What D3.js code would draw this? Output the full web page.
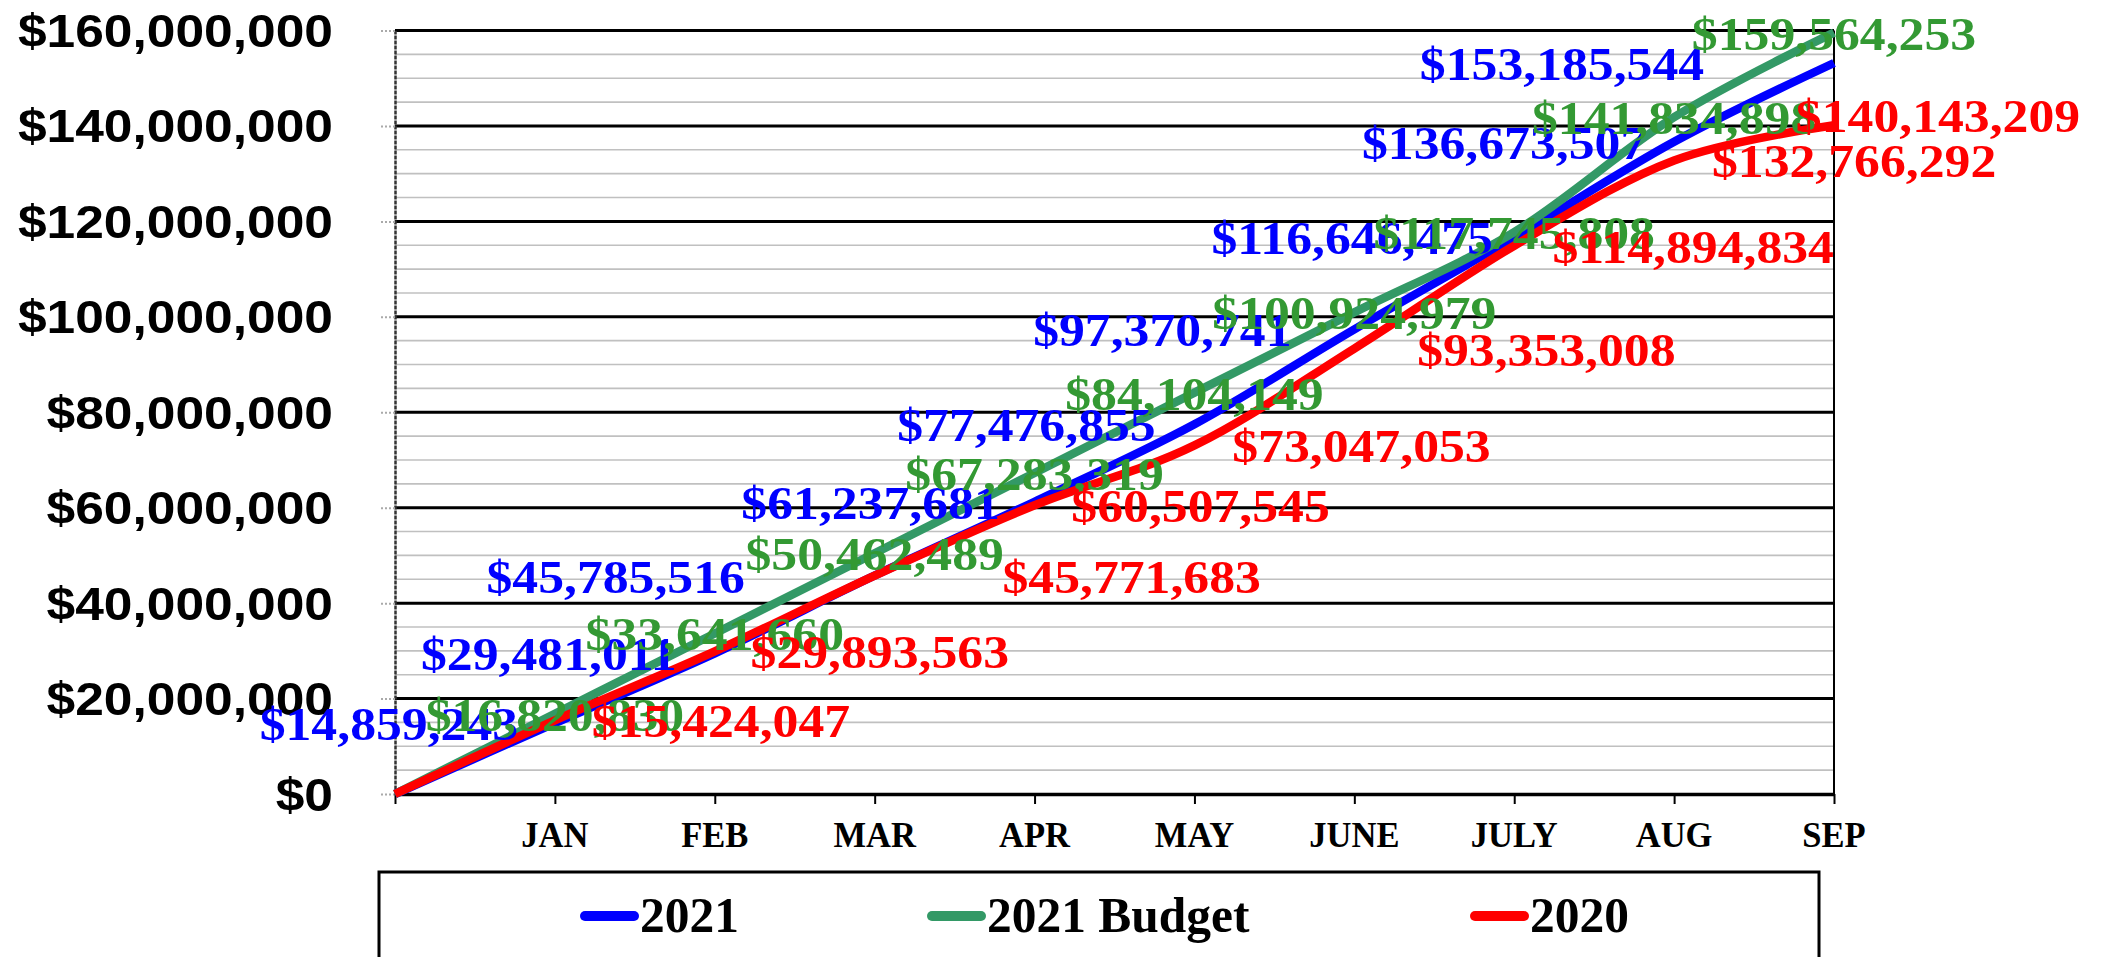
<!DOCTYPE html>
<html>
<head>
<meta charset="utf-8">
<script src="https://cdn.jsdelivr.net/npm/d3@7"></script>
<style>
  body { margin: 0; background: #fff; }
</style>
</head>
<body>
<script>
// categorias del eje X (el primer punto es el origen, sin etiqueta)
var meses = ["", "JAN", "FEB", "MAR", "APR", "MAY", "JUNE", "JULY", "AUG", "SEP"];

// series acumuladas
var serie2021 = [0, 14859243, 29481011, 45785516, 61237681, 77476855, 97370741, 116646475, 136673507, 153185544];
var seriePresupuesto = [0, 16820830, 33641660, 50462489, 67283319, 84104149, 100924979, 117745808, 141834898, 159564253];
var serie2020 = [0, 15424047, 29893563, 45771683, 60507545, 73047053, 93353008, 114894834, 132766292, 140143209];

// marcas del eje Y
var ticksY = [0, 20000000, 40000000, 60000000, 80000000, 100000000, 120000000, 140000000, 160000000];
var ticksMenores = d3.range(5000000, 160000000, 5000000).filter(function (d) { return d % 20000000 !== 0; });

var nombresLeyenda = ["2021", "2021 Budget", "2020"];

// desplazamientos manuales de las etiquetas (como estaban en la hoja)
var dx2021 = [-166, -166, -259, -164, -168, -192, -162, -170, -272];
var dxPresupuesto = [0, 0, 0, 0, 0, 0, 0, 0, 0];
var dx2020 = [166, 165, 257, 166, 167, 192, 179, 180, 104];
var dy2020 = [0, 0, 0, 0, 0, 0, 0, 0, -10];

var width = 2103;
var height = 957;

var margen = { arriba: 30.5, abajo: 794, izquierda: 395, derecha: 1834 };

var escalaX = d3.scalePoint()
    .domain(meses)
    .range([margen.izquierda, margen.derecha]);

var escalaY = d3.scaleLinear()
    .domain([0, 160000000])
    .range([margen.abajo, margen.arriba]);

var formato = d3.format("$,.0f");

var svg = d3.select("body")
    .append("svg")
    .attr("width", width)
    .attr("height", height);

// rejilla menor
svg.append("g")
    .selectAll("line")
    .data(ticksMenores)
    .join("line")
    .attr("x1", margen.izquierda)
    .attr("x2", margen.derecha)
    .attr("y1", function (d) { return escalaY(d); })
    .attr("y2", function (d) { return escalaY(d); })
    .attr("stroke", "#c0c0c0")
    .attr("stroke-width", 1.6);

// rejilla mayor
svg.append("g")
    .selectAll("line")
    .data(ticksY.filter(function (d) { return d > 0; }))
    .join("line")
    .attr("x1", margen.izquierda)
    .attr("x2", margen.derecha)
    .attr("y1", function (d) { return escalaY(d); })
    .attr("y2", function (d) { return escalaY(d); })
    .attr("stroke", "#000")
    .attr("stroke-width", 3);

// borde derecho
svg.append("line")
    .attr("x1", margen.derecha)
    .attr("x2", margen.derecha)
    .attr("y1", margen.arriba)
    .attr("y2", margen.abajo)
    .attr("stroke", "#000")
    .attr("stroke-width", 2);

// eje Y (marcas punteadas)
var ejeY = d3.axisLeft(escalaY)
    .tickValues(ticksY)
    .tickSize(15)
    .tickSizeOuter(0)
    .tickFormat("");
var gEjeY = svg.append("g")
    .attr("transform", "translate(" + margen.izquierda + ",0)")
    .call(ejeY);
gEjeY.select(".domain").attr("stroke", "#333").attr("stroke-width", 2.5).attr("stroke-dasharray", "4,1");
gEjeY.selectAll(".tick line").attr("stroke", "#aaa").attr("stroke-width", 2).attr("stroke-dasharray", "2,2");

// etiquetas eje Y
svg.append("g")
    .selectAll("text")
    .data(ticksY)
    .join("text")
    .attr("transform", function (d) { return "translate(333," + (escalaY(d) + 16.5) + ") scale(1.12,1)"; })
    .attr("text-anchor", "end")
    .style("font-family", "'Liberation Sans', Arial, sans-serif")
    .style("font-weight", "bold")
    .style("font-size", "46px")
    .text(function (d) { return formato(d); });

// eje X
var ejeX = d3.axisBottom(escalaX)
    .tickSize(10)
    .tickSizeOuter(0)
    .tickFormat("");
var gEjeX = svg.append("g")
    .attr("transform", "translate(0," + margen.abajo + ")")
    .call(ejeX);
gEjeX.select(".domain").attr("stroke", "#000").attr("stroke-width", 3.3);
gEjeX.selectAll(".tick line").attr("stroke", "#000").attr("stroke-width", 2);

svg.append("g")
    .selectAll("text")
    .data(meses.filter(function (d) { return d !== ""; }))
    .join("text")
    .attr("transform", function (d) { return "translate(" + escalaX(d) + ",847) scale(0.96,1)"; })
    .attr("text-anchor", "middle")
    .style("font-family", "'Liberation Serif', 'Times New Roman', serif")
    .style("font-weight", "bold")
    .style("font-size", "36px")
    .text(function (d) { return d; });

// lineas
var series = [
    { nombre: "2021", valores: serie2021, color: "#0000ff", colorTexto: "#0000ff", dx: dx2021, dy: null },
    { nombre: "2021 Budget", valores: seriePresupuesto, color: "#339966", colorTexto: "#339933", dx: dxPresupuesto, dy: null },
    { nombre: "2020", valores: serie2020, color: "#ff0000", colorTexto: "#ff0000", dx: dx2020, dy: dy2020 }
];

var linea = d3.line()
    .x(function (d, i) { return escalaX(meses[i]); })
    .y(function (d) { return escalaY(d); })
    .curve(d3.curveCardinal.tension(0));

svg.append("g")
    .selectAll("path")
    .data(series)
    .join("path")
    .attr("d", function (s) { return linea(s.valores); })
    .attr("fill", "none")
    .attr("stroke", function (s) { return s.color; })
    .attr("stroke-width", 8.5)
    .attr("stroke-linejoin", "round");

// etiquetas de datos
series.forEach(function (s) {
    var puntos = s.valores.map(function (v, i) { return { v: v, i: i }; }).filter(function (p) { return p.i > 0; });
    svg.append("g")
        .selectAll("text")
        .data(puntos)
        .join("text")
        .attr("transform", function (p) {
            var px = escalaX(meses[p.i]) + s.dx[p.i - 1];
            var py = escalaY(p.v) + 17 + (s.dy ? s.dy[p.i - 1] : 0);
            return "translate(" + px + "," + py + ") scale(1.1,1)";
        })
        .attr("text-anchor", "middle")
        .attr("fill", s.colorTexto)
        .style("font-family", "'Liberation Serif', 'Times New Roman', serif")
        .style("font-weight", "bold")
        .style("font-size", "47px")
        .text(function (p) { return formato(p.v); });
});

// leyenda
svg.append("rect")
    .attr("x", 379)
    .attr("y", 872)
    .attr("width", 1440)
    .attr("height", 200)
    .attr("fill", "#fff")
    .attr("stroke", "#000")
    .attr("stroke-width", 3);

var posLeyenda = [580, 927, 1470];
var gLeyenda = svg.append("g")
    .selectAll("g")
    .data(series)
    .join("g")
    .attr("transform", function (s, i) { return "translate(" + posLeyenda[i] + ",0)"; });

gLeyenda.append("line")
    .attr("x1", 5)
    .attr("x2", 54)
    .attr("y1", 916)
    .attr("y2", 916)
    .attr("stroke", function (s) { return s.color; })
    .attr("stroke-width", 10)
    .attr("stroke-linecap", "round");

gLeyenda.append("text")
    .attr("transform", "translate(60,932) scale(0.97,1)")
    .style("font-family", "'Liberation Serif', 'Times New Roman', serif")
    .style("font-weight", "bold")
    .style("font-size", "51px")
    .text(function (s, i) { return nombresLeyenda[i]; });
</script>
</body>
</html>
